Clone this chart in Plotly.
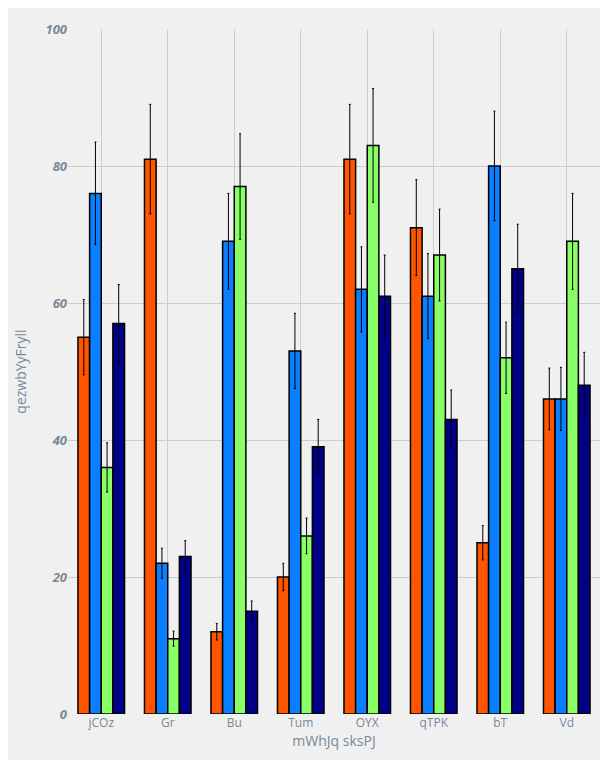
import plotly.graph_objects as go

categories = ['jCOz', 'Gr', 'Bu', 'Tum', 'OYX', 'qTPK', 'bT', 'Vd']
s1 = [55, 81, 12, 20, 81, 71, 25, 46]
s2 = [76, 22, 69, 53, 62, 61, 80, 46]
s3 = [36, 11, 77, 26, 83, 67, 52, 69]
s4 = [57, 23, 15, 39, 61, 43, 65, 48]
e1 = [5.5, 8, 1.2, 2, 8, 7, 2.5, 4.5]
e2 = [7.5, 2.2, 7, 5.5, 6.2, 6.2, 8, 4.6]
e3 = [3.6, 1.1, 7.7, 2.6, 8.3, 6.7, 5.2, 7]
e4 = [5.7, 2.3, 1.5, 4, 6, 4.3, 6.5, 4.8]

colors = ['#FF5500', '#0A7FFF', '#88FF66', '#000088']

fig = go.Figure()
for vals, errs, c in zip([s1, s2, s3, s4], [e1, e2, e3, e4], colors):
    fig.add_trace(go.Bar(
        x=categories, y=vals,
        marker=dict(color=c, line=dict(color='black', width=1.5)),
        error_y=dict(type='data', array=errs, color='black', thickness=1, width=1),
    ))

fig.update_layout(
    width=608, height=760,
    paper_bgcolor='#f0f0f0', plot_bgcolor='#f0f0f0',
    showlegend=False,
    bargap=0.3, bargroupgap=0,
    margin=dict(l=60, r=16, t=21, b=54),
    font=dict(family='Open Sans', color='#778899', size=12),
    xaxis=dict(title=dict(text='mWhJq sksPJ', standoff=6), showgrid=True,
               gridcolor='#cccccc', ticks=''),
    yaxis=dict(title=dict(text='qezwbYyFryll'), range=[0, 100], dtick=20,
               gridcolor='#cccccc', zeroline=False,
               tickfont=dict(family='Open Sans', size=13, weight='bold', style='italic')),
)

fig.write_html("out.html")
